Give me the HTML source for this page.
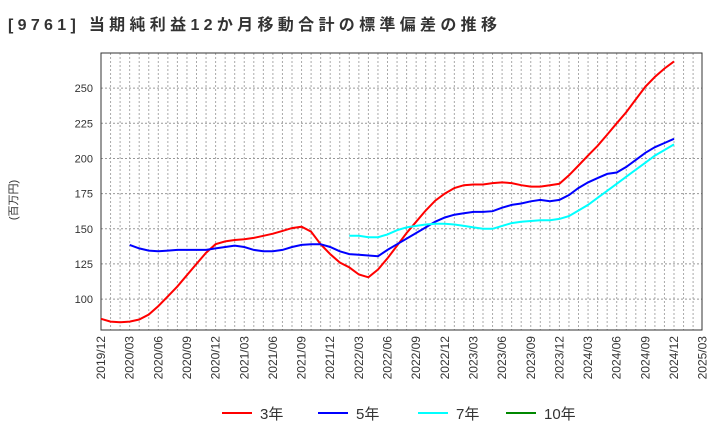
<!DOCTYPE html>
<html><head><meta charset="utf-8"><style>
body{margin:0;background:#fff;}
svg{font-family:"Liberation Sans","Noto Sans CJK JP",sans-serif;}
</style></head><body>
<svg id="c" width="720" height="440" xmlns="http://www.w3.org/2000/svg">
<text x="8" y="30" font-size="16" font-weight="bold" fill="#333" textLength="489" lengthAdjust="spacing">[9761]  当期純利益12か月移動合計の標準偏差の推移</text>
<text transform="translate(17,200) rotate(-90)" font-size="11" text-anchor="middle" fill="#333">(百万円)</text>
<g id="grid"></g><g id="ticks"></g><g id="lines"></g><g id="legend"></g>
</svg>
<script>
const xLabels=["2019/12","2020/03","2020/06","2020/09","2020/12","2021/03","2021/06","2021/09","2021/12","2022/03","2022/06","2022/09","2022/12","2023/03","2023/06","2023/09","2023/12","2024/03","2024/06","2024/09","2024/12","2025/03"];
const yTicks=[100,125,150,175,200,225,250];
const s3=[86,84,83.5,84,85.5,89,95,102,109,117,125,133,139,141,142,142.5,143.5,145,146.5,148.5,150.5,151.5,148,139,132,126,122.5,117.5,115.5,121,129,138,147,155,163,170,175,179,181,181.5,181.5,182.5,183,182.5,181,180,180,181,182,188,195,202,209,217,225,233,242,251,258,264,269];
const s5=[null,null,null,138.5,136,134.5,134,134.5,135,135,135,135,136,137,138,137,135,134,134,135,137,138.5,139,139,137,134,132,131.5,131,130.5,135,139,143,147,151,155,158,160,161,162,162,162.5,165,167,168,169.5,170.5,169.5,170.5,174,179,183,186,189,190,194,199,204,208,211,214];
const s7=[null,null,null,null,null,null,null,null,null,null,null,null,null,null,null,null,null,null,null,null,null,null,null,null,null,null,145,145,144,144,146,149,151,152,153,153.5,153.5,153,152,151,150,150,152,154,155,155.5,156,156,157,159,163,167,172,177,182,187,192,197,202,206,210];
const s10=[];
const L=101,R=702,T=53,B=330,mpx=9.55,ymin=78,ymax=275;
const X=i=>L+i*mpx, Y=v=>B-(v-ymin)/(ymax-ymin)*(B-T);
const NS="http://www.w3.org/2000/svg";
function mk(p,t,a){const e=document.createElementNS(NS,t);for(const k in a)e.setAttribute(k,a[k]);p.appendChild(e);return e;}
const g=document.getElementById('grid'),tk=document.getElementById('ticks'),ln=document.getElementById('lines'),lg=document.getElementById('legend');
for(let m=0;X(m)<R;m++){const l=mk(g,'line',{x1:X(m),x2:X(m),y1:T,y2:B,stroke:'#aaa','stroke-dasharray':'2,2','stroke-width':1});

}
yTicks.forEach(v=>{const l=mk(g,'line',{x1:L,x2:R,y1:Y(v),y2:Y(v),stroke:'#999','stroke-dasharray':'2,2'});


const t=mk(tk,'text',{x:L-8,y:Y(v)+4,'font-size':11,'text-anchor':'end',fill:'#333'});t.textContent=v;

});
xLabels.forEach((s,i)=>{const x=X(i*3);const t=mk(tk,'text',{transform:`translate(${x+4},${B+6}) rotate(-90)`,'font-size':12,'text-anchor':'end',fill:'#333'});t.textContent=s;

});
const fr=mk(g,'rect',{x:L,y:T,width:R-L,height:B-T,fill:'none',stroke:'#333'});


function line(d,c,n){let p='';d.forEach((v,i)=>{if(v==null)return;p+=(p?'L':'M')+X(i).toFixed(1)+','+Y(v).toFixed(1);});
if(!p)return;const e=mk(ln,'path',{d:p,fill:'none',stroke:c,'stroke-width':2});

}
line(s3,'#f00','series-3y');line(s5,'#00f','series-5y');line(s7,'#0ff','series-7y');line(s10,'#080','series-10y');
[['3年','#f00',222],['5年','#00f',318],['7年','#0ff',418],['10年','#080',506]].forEach(([t,c,x])=>{
const gg=mk(lg,'g',{});


mk(gg,'line',{x1:x,x2:x+30,y1:413,y2:413,stroke:c,'stroke-width':2});
const tx=mk(gg,'text',{x:x+38,y:419,'font-size':15,fill:'#333'});tx.textContent=t;});
</script>
</body></html>
